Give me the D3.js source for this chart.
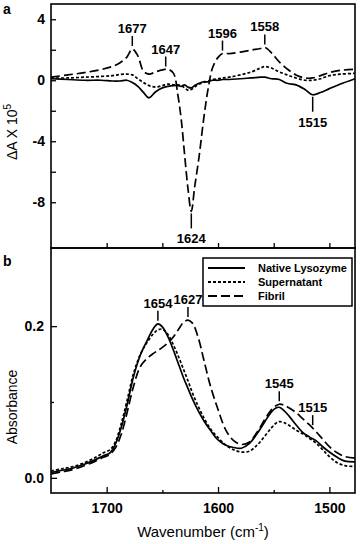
<!DOCTYPE html>
<html>
<head>
<meta charset="utf-8">
<script src="https://cdn.jsdelivr.net/npm/d3@7"></script>
<style>
	body { margin: 0; background: #fff; }
	svg { font-family: "Liberation Sans", Arial, sans-serif; }
	.frame { fill: none; stroke: #000; stroke-width: 1.6; }
	.curve { fill: none; stroke: #000; stroke-width: 1.7; }
	.tick line { stroke: #000; stroke-width: 1.3; }
	.tick text { font-size: 14px; font-weight: bold; fill: #000; }
	.peak { font-size: 13px; font-weight: bold; fill: #000; }
	.peakline { stroke: #000; stroke-width: 1.5; }
	.leg { font-size: 11px; font-weight: bold; }
</style>
</head>
<body>
<svg width="360" height="544"></svg>
<script>

// panel a: difference spectra (dA x 10^5)
var waveA = [1750, 1735, 1720, 1705, 1695, 1688, 1682, 1677, 1672, 1667, 1662, 1656, 1650, 1645, 1640, 1636, 1633, 1630, 1627, 1624, 1621, 1617, 1613, 1609, 1605, 1600, 1596, 1590, 1580, 1570, 1562, 1558, 1552, 1545, 1538, 1530, 1522, 1515, 1508, 1500, 1490, 1477];
var nativeA = [0.1, 0.05, 0, 0, -0.05, -0.05, 0, -0.15, -0.4, -0.8, -1.15, -0.75, -0.5, -0.4, -0.35, -0.35, -0.4, -0.3, -0.45, -0.5, -0.35, -0.2, -0.1, -0.1, 0, 0, 0.05, 0.05, 0.1, 0.15, 0.2, 0.2, 0.1, 0.05, -0.2, -0.3, -0.6, -0.95, -0.8, -0.55, -0.25, 0.1];
var superA = [0.15, 0.15, 0.2, 0.25, 0.3, 0.38, 0.4, 0.35, 0.1, -0.15, -0.35, -0.45, -0.35, -0.25, -0.3, -0.3, -0.35, -0.5, -0.65, -0.6, -0.45, -0.25, -0.15, -0.05, 0.05, 0.1, 0.15, 0.2, 0.35, 0.55, 0.8, 0.9, 0.8, 0.55, 0.35, 0.15, 0, 0, 0.1, 0.3, 0.4, 0.45];
var fibrilA = [0.2, 0.35, 0.5, 0.7, 0.9, 1.15, 1.5, 2.05, 1.6, 0.6, 0.4, 0.55, 0.68, 0.72, 0.45, -1.0, -2.6, -4.9, -7.1, -8.6, -7.0, -5.0, -2.6, -0.6, 0.8, 1.5, 1.75, 1.75, 1.85, 1.98, 2.08, 2.15, 1.8, 1.2, 0.75, 0.35, 0.15, 0.15, 0.3, 0.5, 0.65, 0.72];

// panel b: absorbance spectra
var waveB = [1750, 1740, 1730, 1720, 1710, 1703, 1697, 1692, 1687, 1682, 1676, 1670, 1664, 1658, 1654, 1650, 1645, 1640, 1635, 1631, 1627, 1623, 1618, 1613, 1607, 1600, 1593, 1586, 1579, 1572, 1565, 1558, 1552, 1548, 1545, 1541, 1536, 1530, 1524, 1518, 1512, 1506, 1500, 1493, 1486, 1477];
var nativeB = [0.007, 0.010, 0.013, 0.018, 0.024, 0.029, 0.033, 0.045, 0.066, 0.094, 0.133, 0.161, 0.180, 0.197, 0.203, 0.199, 0.186, 0.168, 0.148, 0.132, 0.118, 0.104, 0.089, 0.076, 0.063, 0.050, 0.043, 0.040, 0.039, 0.045, 0.058, 0.074, 0.087, 0.092, 0.093, 0.089, 0.081, 0.070, 0.060, 0.054, 0.049, 0.041, 0.034, 0.027, 0.022, 0.021];
var superB = [0.009, 0.012, 0.015, 0.020, 0.027, 0.033, 0.037, 0.048, 0.071, 0.100, 0.137, 0.162, 0.178, 0.190, 0.195, 0.196, 0.189, 0.175, 0.158, 0.143, 0.128, 0.112, 0.095, 0.080, 0.065, 0.053, 0.043, 0.037, 0.034, 0.035, 0.043, 0.055, 0.066, 0.072, 0.074, 0.073, 0.069, 0.063, 0.058, 0.052, 0.046, 0.037, 0.028, 0.020, 0.016, 0.015];
var fibrilB = [0.005, 0.008, 0.011, 0.016, 0.022, 0.027, 0.031, 0.040, 0.057, 0.084, 0.120, 0.146, 0.157, 0.164, 0.168, 0.172, 0.178, 0.186, 0.197, 0.205, 0.208, 0.204, 0.186, 0.157, 0.122, 0.090, 0.063, 0.049, 0.044, 0.047, 0.060, 0.077, 0.090, 0.095, 0.097, 0.096, 0.092, 0.086, 0.078, 0.070, 0.061, 0.051, 0.041, 0.033, 0.028, 0.026];

var seriesNames = ["Native Lysozyme", "Supernatant", "Fibril"];
var dashes = [null, "3,2", "9,4"];

// peak labels: wavenumber, which series it sits on, above(1)/below(-1)
var peaksA = [1677, 1647, 1596, 1558, 1624, 1515];
var peaksASeries = [2, 2, 2, 2, 2, 0];
var peaksASide = [1, 1, 1, 1, -1, -1];
var peaksB = [1654, 1627, 1545, 1515];
var peaksBSeries = [0, 2, 2, 2];

var ticksX = [1700, 1600, 1500];
var minorX = [1650, 1550];
var ticksYA = [4, 2, 0, -2, -4, -6, -8];
var ticksYB = [0, 0.2];
var minorYB = [0.1];

var svg = d3.select("svg");
var left = 51, right = 355, topA = 4, mid = 248, bottom = 493;

var x = d3.scaleLinear().domain([1750, 1477]).range([left, right]);
var yA = d3.scaleLinear().domain([5, -11]).range([topA, mid]);
var yB = d3.scaleLinear().domain([0.303, -0.02]).range([mid, bottom]);

function valueAt(grid, vals, wn) {
	for (var i = 0; i < grid.length - 1; i++) {
		if (wn <= grid[i] && wn >= grid[i + 1]) {
			var t = (grid[i] - wn) / (grid[i] - grid[i + 1]);
			return vals[i] + t * (vals[i + 1] - vals[i]);
		}
	}
	return vals[vals.length - 1];
}

function drawCurves(grid, list, y) {
	var line = d3.line()
		.curve(d3.curveCatmullRom.alpha(0.5))
		.x(function (d) { return x(d[0]); })
		.y(function (d) { return y(d[1]); });
	list.forEach(function (vals, i) {
		svg.append("path")
			.attr("class", "curve")
			.attr("d", line(grid.map(function (w, j) { return [w, vals[j]]; })))
			.attr("stroke-dasharray", dashes[i]);
	});
}

// axes panel a
svg.append("g").attr("transform", "translate(" + left + ",0)")
	.call(d3.axisLeft(yA).tickValues(ticksYA).tickSize(-5).tickPadding(6)
		.tickFormat(function (d) { return d % 4 === 0 ? String(d) : ""; }))
	.call(function (g) { g.select(".domain").remove(); });
svg.append("g").attr("transform", "translate(0," + mid + ")")
	.call(d3.axisBottom(x).tickValues(ticksX.concat(minorX)).tickSize(-5).tickFormat(""))
	.call(function (g) { g.select(".domain").remove(); });

// axes panel b
svg.append("g").attr("transform", "translate(" + left + ",0)")
	.call(d3.axisLeft(yB).tickValues(ticksYB).tickSize(-6).tickPadding(7).tickFormat(d3.format(".1f")))
	.call(function (g) { g.select(".domain").remove(); });
svg.append("g").attr("transform", "translate(" + left + ",0)")
	.call(d3.axisLeft(yB).tickValues(minorYB).tickSize(-3).tickFormat(""))
	.call(function (g) { g.select(".domain").remove(); });
svg.append("g").attr("transform", "translate(0," + bottom + ")")
	.call(d3.axisBottom(x).tickValues(ticksX).tickSize(-6).tickPadding(10).tickFormat(d3.format("d")))
	.call(function (g) { g.select(".domain").remove(); });
svg.append("g").attr("transform", "translate(0," + bottom + ")")
	.call(d3.axisBottom(x).tickValues(minorX).tickSize(-3).tickFormat(""))
	.call(function (g) { g.select(".domain").remove(); });

drawCurves(waveA, [nativeA, superA, fibrilA], yA);
drawCurves(waveB, [nativeB, superB, fibrilB], yB);

// frames
svg.append("rect").attr("class", "frame").attr("x", left).attr("y", topA).attr("width", right - left).attr("height", mid - topA);
svg.append("rect").attr("class", "frame").attr("x", left).attr("y", mid).attr("width", right - left).attr("height", bottom - mid);

// peak annotations
function drawPeak(wn, yc, side) {
	var px = x(wn);
	if (side > 0) {
		svg.append("line").attr("class", "peakline").attr("x1", px).attr("x2", px).attr("y1", yc - 3).attr("y2", yc - 13);
		svg.append("text").attr("class", "peak").attr("x", px).attr("y", yc - 16).attr("text-anchor", "middle").text(wn);
	} else {
		svg.append("line").attr("class", "peakline").attr("x1", px).attr("x2", px).attr("y1", yc + 2).attr("y2", yc + 17);
		svg.append("text").attr("class", "peak").attr("x", px).attr("y", yc + 32).attr("text-anchor", "middle").text(wn);
	}
}
var listA = [nativeA, superA, fibrilA];
peaksA.forEach(function (wn, i) {
	drawPeak(wn, yA(valueAt(waveA, listA[peaksASeries[i]], wn)), peaksASide[i]);
});
var listB = [nativeB, superB, fibrilB];
peaksB.forEach(function (wn, i) {
	drawPeak(wn, yB(valueAt(waveB, listB[peaksBSeries[i]], wn)), 1);
});

// legend
var leg = svg.append("g").attr("transform", "translate(203,258)");
leg.append("rect").attr("width", 149).attr("height", 48).attr("fill", "#fff").attr("stroke", "#000").attr("stroke-width", 1.5);
seriesNames.forEach(function (name, i) {
	var ly = 10 + i * 14;
	leg.append("line").attr("x1", 5).attr("x2", 42).attr("y1", ly).attr("y2", ly)
		.attr("stroke", "#000").attr("stroke-width", 1.8).attr("stroke-dasharray", dashes[i]);
	leg.append("text").attr("class", "leg").attr("x", 55).attr("y", ly + 4).text(name);
});

// panel letters and titles
svg.append("text").attr("x", 3).attr("y", 14).attr("font-size", 14).attr("font-weight", "bold").text("a");
svg.append("text").attr("x", 3).attr("y", 266).attr("font-size", 14).attr("font-weight", "bold").text("b");

var tA = svg.append("text").attr("transform", "translate(17,132) rotate(-90)")
	.attr("text-anchor", "middle").attr("font-size", 14);
tA.append("tspan").text("\u0394A X 10");
tA.append("tspan").attr("dy", -6).attr("font-size", 10).text("5");

svg.append("text").attr("transform", "translate(17,407) rotate(-90)")
	.attr("text-anchor", "middle").attr("font-size", 14).text("Absorbance");

var tX = svg.append("text").attr("x", 203).attr("y", 537).attr("text-anchor", "middle").attr("font-size", 15);
tX.append("tspan").text("Wavenumber (cm");
tX.append("tspan").attr("dy", -6).attr("font-size", 10).text("-1");
tX.append("tspan").attr("dy", 6).text(")");

</script>
</body>
</html>
